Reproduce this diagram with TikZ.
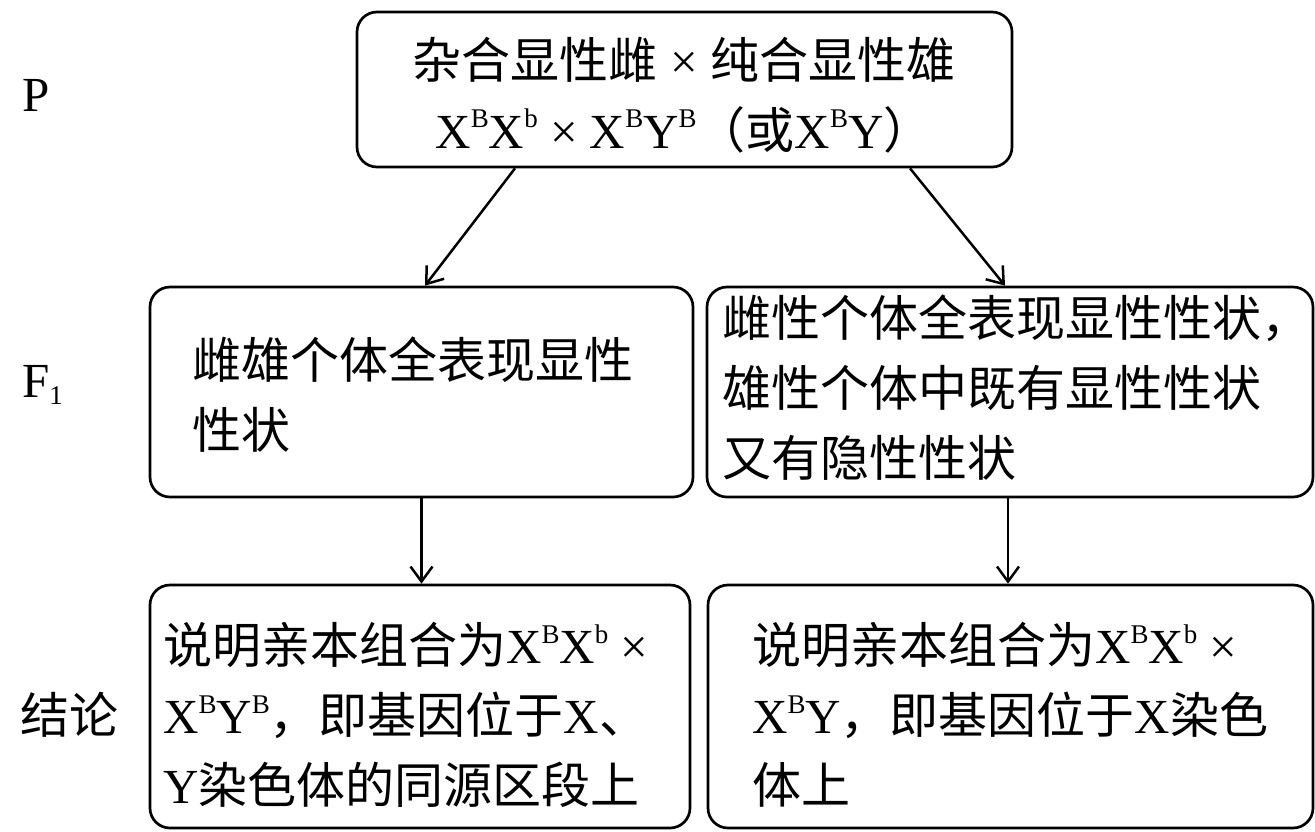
\documentclass[tikz,border=0pt]{standalone}
\usepackage{fontspec}
\setmainfont{Liberation Serif}
\newfontfamily\cjk{Noto Sans CJK SC}
\usetikzlibrary{arrows.meta}
\newcommand\zh[1]{{\cjk #1}}
\newcommand\sps[1]{\raisebox{0.42em}{\fontsize{27}{27}\selectfont #1}}
\newcommand\bigtxt{\fontsize{49}{70}\selectfont}
\begin{document}
\begin{tikzpicture}[x=1pt,y=-1pt,
  box/.style={draw, line width=2.7pt, rounded corners=20pt, inner sep=0pt},
  txt/.style={inner sep=0pt, align=left, font=\bigtxt},
  lbl/.style={inner sep=0pt, font=\bigtxt},
  arr/.style={-{Straight Barb[length=15pt,width=22pt,line width=2.5pt]}, line width=2.5pt}]
\useasboundingbox (0,0) rectangle (1315,831);
% boxes
\node[box, minimum width=655pt, minimum height=155pt] (top) at (684.5,89.5) {};
\node[box, minimum width=543pt, minimum height=210pt] (f1l) at (421.5,392) {};
\node[box, minimum width=606pt, minimum height=210pt] (f1r) at (1010,392) {};
\node[box, minimum width=540pt, minimum height=243pt] (bl) at (420,706.5) {};
\node[box, minimum width=605pt, minimum height=243pt] (br) at (1010.5,706.5) {};
% texts
\node[txt, align=center] (ttop) at (684,95) {\zh{杂合显性雌} × \zh{纯合显性雄}\\X\sps{B}X\sps{b} × X\sps{B}Y\sps{B}\zh{（或}X\sps{B}Y\zh{）}};
\node[txt, anchor=west] (tf1l) at (192,395) {\zh{雌雄个体全表现显性}\\\zh{性状}};
\node[txt, anchor=west] (tf1r) at (722,388) {\zh{雌性个体全表现显性性状，}\\\zh{雄性个体中既有显性性状}\\\zh{又有隐性性状}};
\node[txt, anchor=west] (tbl) at (163,715) {\zh{说明亲本组合为}X\sps{B}X\sps{b} ×\\X\sps{B}Y\sps{B}\zh{，即基因位于}X\zh{、}\\Y\zh{染色体的同源区段上}};
\node[txt, anchor=west] (tbr) at (752,715) {\zh{说明亲本组合为}X\sps{B}X\sps{b} ×\\X\sps{B}Y\zh{，即基因位于}X\zh{染色}\\\zh{体上}};
% side labels
\node[lbl, anchor=west] (lp) at (22,95) {P};
\node[lbl, anchor=west] (lf) at (22,385) {F\raisebox{-0.15em}{\fontsize{27}{27}\selectfont 1}};
\node[lbl, anchor=west] (lc) at (20,715) {\zh{结论}};
% arrows
\draw[arr] ([xshift=-169.5pt]top.south) -- ([xshift=3.5pt]f1l.north);
\draw[arr] ([xshift=225.5pt]top.south) -- ([xshift=-5pt]f1r.north);
\draw[arr] (f1l.south) -- (f1l.south |- bl.north);
\draw[arr] ([xshift=-2pt]f1r.south) -- ([xshift=-2pt]f1r.south |- br.north);
\end{tikzpicture}
\end{document}
